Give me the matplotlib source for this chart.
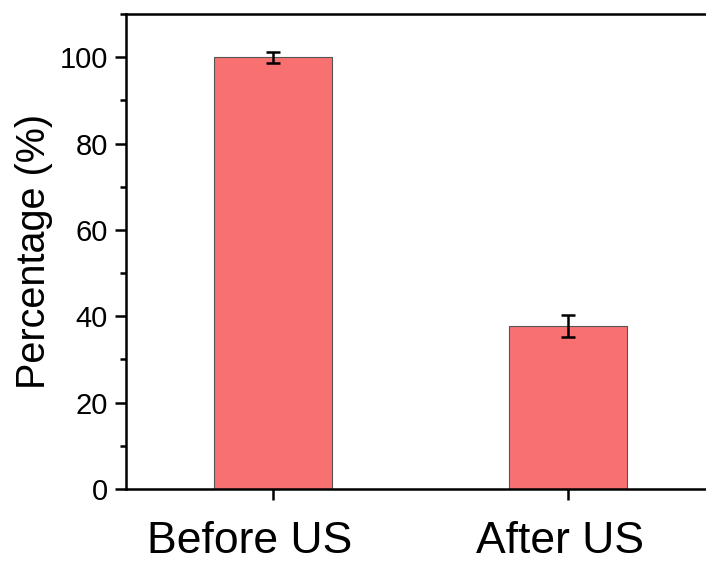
import matplotlib
matplotlib.use('Agg')
import matplotlib.pyplot as plt
import matplotlib.transforms as mtransforms
from matplotlib.ticker import MultipleLocator

# Data
categories = ['Before US', 'After US']
percentages = [100.0, 37.7]
errors = [1.3, 2.5]

plt.rcParams['font.family'] = ['Liberation Sans', 'DejaVu Sans']

fig = plt.figure(figsize=(7.06, 5.66), dpi=100)
W, H = 706, 566
ax = fig.add_axes([126 / W, (H - 489) / H, (715 - 126) / W, (489 - 14) / H])

positions = [1, 2]
ax.bar(positions, percentages, width=0.4, color='#F87070',
       edgecolor='#555555', linewidth=0.8, zorder=2)
ax.errorbar(positions, percentages, yerr=errors, fmt='none', ecolor='black',
            elinewidth=1.8, capsize=4.7, capthick=1.8, zorder=3)

ax.set_xlim(0.5, 2.5)
ax.set_ylim(0, 110)
ax.set_xticks(positions)
ax.set_xticklabels(categories, fontsize=32)
ax.yaxis.set_major_locator(MultipleLocator(20))
ax.yaxis.set_minor_locator(MultipleLocator(10))
ax.tick_params(axis='y', which='major', labelsize=21, length=8, width=1.8, pad=5)
ax.tick_params(axis='y', which='minor', length=4, width=1.8)
ax.tick_params(axis='x', which='major', length=8, width=1.8, pad=15)
ax.tick_params(axis='x', which='minor', bottom=False)
ax.set_ylabel('Percentage (%)', fontsize=28.5, labelpad=5)

# the category labels sit a little left of their ticks in the original
shifts_px = [-24, -8]
for label, dx in zip(ax.get_xticklabels(), shifts_px):
    offset = mtransforms.ScaledTranslation(dx / 100, 0, fig.dpi_scale_trans)
    label.set_transform(label.get_transform() + offset)

for side in ['left', 'bottom', 'top', 'right']:
    ax.spines[side].set_linewidth(1.8)

fig.savefig('out.png', dpi=100)
